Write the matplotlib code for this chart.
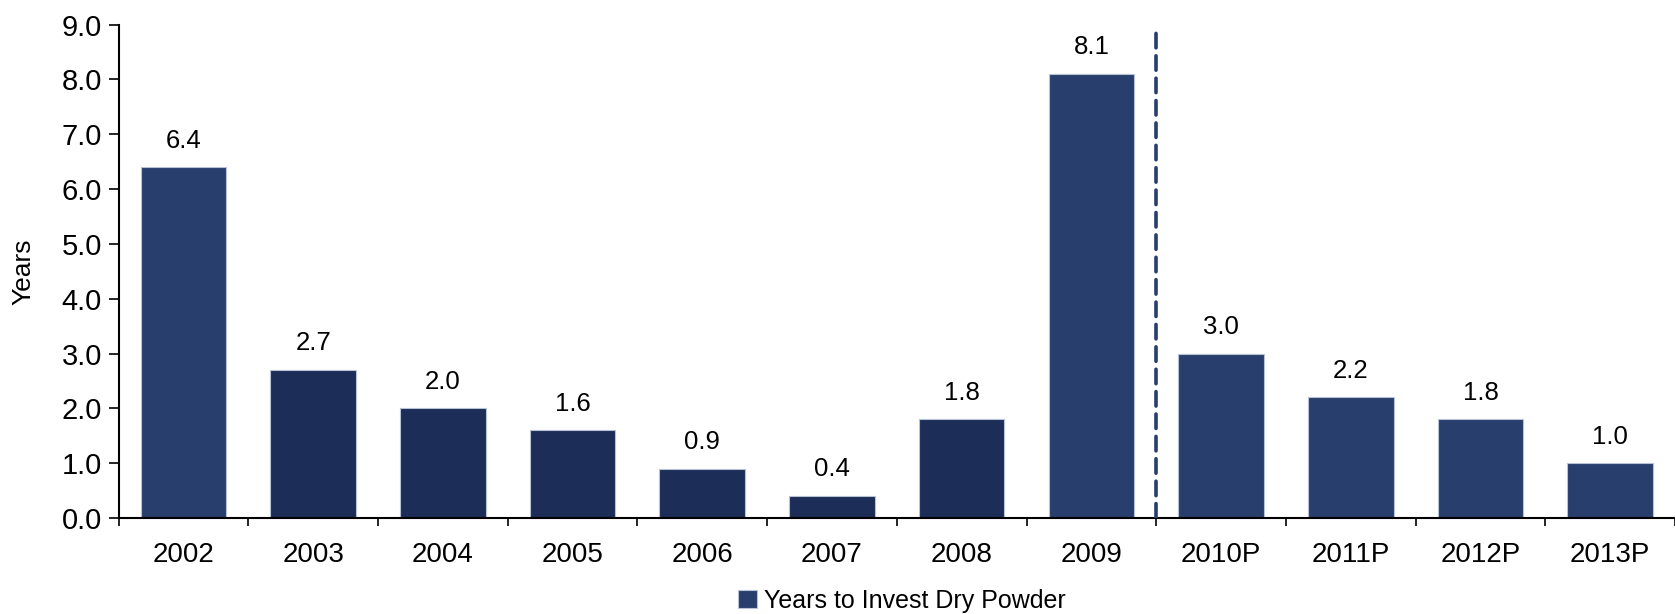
import matplotlib.pyplot as plt
import numpy as np

years = ['2002', '2003', '2004', '2005', '2006', '2007', '2008', '2009',
         '2010P', '2011P', '2012P', '2013P']
dry_powder_years = [6.4, 2.7, 2.0, 1.6, 0.9, 0.4, 1.8, 8.1, 3.0, 2.2, 1.8, 1.0]

LIGHT = '#283e6c'
DARK = '#1c2d57'
bar_colors = [LIGHT] + [DARK] * 6 + [LIGHT] * 5

plt.rcParams['font.family'] = ['Liberation Sans', 'DejaVu Sans']
NARROW = ['Liberation Sans Narrow', 'Liberation Sans', 'DejaVu Sans']

W, H = 1675, 614
fig = plt.figure(figsize=(W / 100, H / 100), dpi=100)
ax = fig.add_axes([118.6 / W, 1 - 518 / H, (W - 118.6) / W, (518 - 24.6) / H])

x = np.arange(len(years))
bars = ax.bar(x, dry_powder_years, width=0.66, color=bar_colors,
              edgecolor='#b8c2d6', linewidth=0.8, zorder=2,
              label='Years to Invest Dry Powder')

for xi, v in zip(x, dry_powder_years):
    ax.annotate(f'{v:.1f}', (xi, v), xytext=(0, 10.5), textcoords='offset points',
                ha='center', va='bottom', fontsize=18.5)

# divider between actual and projected years
ax.plot([7.5, 7.5], [0, 8.9], linestyle=(0, (4, 2.2)), color=LIGHT,
        linewidth=2.6, zorder=3, dash_capstyle='round')

ax.set_xlim(-0.5, 11.39)
ax.set_ylim(0, 9.0)
yt = np.arange(0, 9.1, 1.0)
ax.set_yticks(yt)
ax.set_yticklabels([f'{t:.1f}' for t in yt], fontsize=21)

ax.set_xticks(np.arange(-0.5, 12, 1.0))
ax.set_xticklabels([])
ax.set_xticks(x, minor=True)
ax.set_xticklabels(years, minor=True, fontsize=20, family=NARROW)
ax.tick_params(axis='x', which='major', length=6, width=1.2, direction='out')
ax.tick_params(axis='x', which='minor', length=0, pad=17)
ax.tick_params(axis='y', length=7, width=1.2, direction='out', pad=5)

for side in ('top', 'right'):
    ax.spines[side].set_visible(False)
for side in ('left', 'bottom'):
    ax.spines[side].set_linewidth(1.5)

ax.set_ylabel('Years', fontsize=19, family=NARROW)
ax.yaxis.set_label_coords(-83 / (W - 118.6), 0.5)

fig.legend(handles=[bars], labels=['Years to Invest Dry Powder'],
           loc='center', bbox_to_anchor=(902 / W, 1 - 601 / H), frameon=False,
           fontsize=18, handlelength=0.75, handleheight=0.75, handletextpad=0.3,
           borderpad=0, borderaxespad=0)

fig.savefig('out.png', dpi=100)
